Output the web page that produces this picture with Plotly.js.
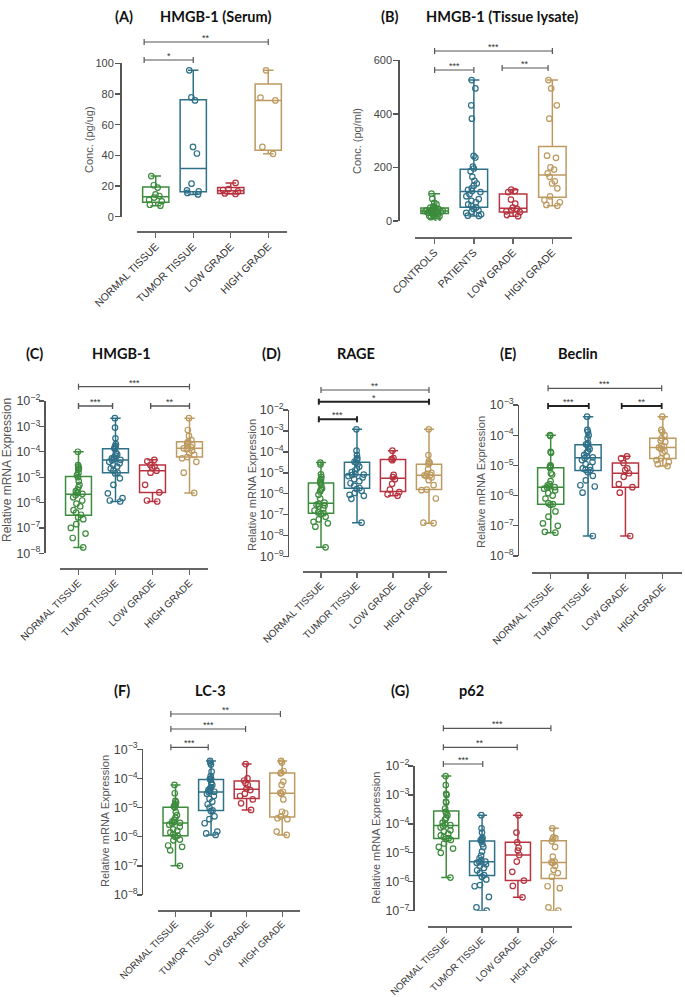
<!DOCTYPE html>
<html>
<head>
<meta charset="utf-8">
<script src="https://cdn.plot.ly/plotly-3.0.1.min.js"></script>
<style>
  body { margin: 0; background: #fff; }
  #chart { width: 685px; height: 997px; }
</style>
</head>
<body>
<div id="chart"></div>
<script>
// group labels
var tissueGroups = ['NORMAL TISSUE', 'TUMOR TISSUE', 'LOW GRADE', 'HIGH GRADE'];
var lysateGroups = ['CONTROLS', 'PATIENTS', 'LOW GRADE', 'HIGH GRADE'];

// (A) HMGB-1 serum, pg/ug
var serumNormal = [26.5, 20.5, 19, 14.5, 13.5, 12.5, 11, 10, 7.8, 7.2];
var serumTumor = [95.4, 77.8, 75.8, 45.5, 41.2, 21.5, 17.2, 16.5, 15.5, 14.5];
var serumLow = [22, 18, 17.4, 16.5, 15.2, 14.8];
var serumHigh = [95.4, 77.6, 75.8, 45.5, 41];

// (B) HMGB-1 tissue lysate, pg/ml
var lysateControls = [102, 83, 68, 62, 55, 52, 50, 48, 46, 45, 43, 42, 40, 39, 38, 37, 36, 35, 34, 32, 31, 30, 28, 27, 25, 23, 20, 18, 14, 8];
var lysatePatients = [526, 495, 432, 382, 243, 237, 203, 196, 186, 165, 150, 140, 132, 122, 116, 112, 108, 100, 92, 82, 75, 70, 62, 57, 50, 45, 40, 35, 30, 25, 20, 19];
var lysateLow = [117, 112, 108, 80, 65, 50, 45, 40, 36, 33, 22, 18];
var lysateHigh = [526, 495, 432, 382, 244, 236, 200, 192, 178, 165, 148, 140, 122, 92, 78, 70, 60, 57];

// (C) HMGB-1 relative mRNA
var hmgbNormal = [1.0e-4, 3.0e-5, 2.6e-5, 2.2e-5, 2.0e-5, 1.5e-5, 1.2e-5, 1.0e-5, 7.0e-6, 5.0e-6, 4.0e-6, 3.2e-6, 2.8e-6, 2.4e-6, 2.2e-6, 2.0e-6, 1.6e-6, 1.2e-6, 9.0e-7, 7.0e-7, 5.0e-7, 4.0e-7, 3.3e-7, 2.6e-7, 2.2e-7, 1.4e-7, 1.0e-7, 6.0e-8, 4.0e-8, 1.7e-8];
var hmgbTumor = [2.1e-3, 9.0e-4, 3.4e-4, 2.0e-4, 1.7e-4, 1.5e-4, 1.4e-4, 1.3e-4, 9.0e-5, 8.0e-5, 7.0e-5, 6.0e-5, 5.5e-5, 5.0e-5, 4.8e-5, 4.6e-5, 4.0e-5, 3.5e-5, 3.0e-5, 2.6e-5, 2.2e-5, 1.8e-5, 1.5e-5, 1.4e-5, 9.0e-6, 5.0e-6, 2.3e-6, 1.5e-6, 1.2e-6, 1.1e-6];
var hmgbLow = [4.8e-5, 4.2e-5, 3.0e-5, 2.6e-5, 2.3e-5, 1.8e-5, 1.5e-5, 5.0e-6, 2.5e-6, 1.2e-6, 1.1e-6];
var hmgbHigh = [2.1e-3, 7.2e-4, 4.2e-4, 2.9e-4, 2.5e-4, 2.2e-4, 1.9e-4, 1.7e-4, 1.5e-4, 1.37e-4, 1.25e-4, 1.1e-4, 9.0e-5, 7.5e-5, 6.2e-5, 5.5e-5, 4.0e-5, 1.5e-5, 2.4e-6];

// (D) RAGE
var rageNormal = [3.1e-5, 2.5e-5, 8.5e-6, 6.5e-6, 5.0e-6, 4.6e-6, 3.6e-6, 3.2e-6, 2.7e-6, 1.8e-6, 1.6e-6, 1.3e-6, 9.0e-7, 6.0e-7, 3.8e-7, 3.3e-7, 3.0e-7, 2.8e-7, 2.5e-7, 2.0e-7, 1.6e-7, 1.3e-7, 1.2e-7, 1.1e-7, 8.0e-8, 6.0e-8, 4.6e-8, 3.9e-8, 2.7e-8, 2.8e-9];
var rageTumor = [1.2e-3, 1.15e-4, 7.1e-5, 5.0e-5, 4.5e-5, 4.0e-5, 3.4e-5, 3.1e-5, 2.6e-5, 2.0e-5, 1.6e-5, 1.3e-5, 1.1e-5, 9.0e-6, 8.3e-6, 7.9e-6, 7.0e-6, 6.0e-6, 5.0e-6, 4.0e-6, 3.2e-6, 2.4e-6, 1.9e-6, 1.7e-6, 1.4e-6, 1.1e-6, 9.0e-7, 8.0e-7, 5.8e-7, 4.2e-8];
var rageLow = [1.15e-4, 5.0e-5, 4.5e-5, 4.0e-5, 8.0e-6, 6.2e-6, 5.0e-6, 3.0e-6, 1.6e-6, 1.2e-6, 9.5e-7, 8.1e-7];
var rageHigh = [1.2e-3, 7.1e-5, 3.5e-5, 3.0e-5, 2.6e-5, 1.5e-5, 1.0e-5, 9.0e-6, 8.0e-6, 7.6e-6, 7.0e-6, 6.0e-6, 4.5e-6, 2.6e-6, 1.6e-6, 1.5e-6, 6.0e-7, 4.2e-8, 4.0e-8];

// (E) Beclin
var beclinNormal = [1.0e-4, 9.5e-5, 2.8e-5, 2.6e-5, 1.0e-5, 9.5e-6, 9.0e-6, 8.2e-6, 5.5e-6, 5.0e-6, 3.0e-6, 2.4e-6, 2.2e-6, 2.0e-6, 1.9e-6, 1.85e-6, 1.7e-6, 1.5e-6, 1.2e-6, 1.0e-6, 8.0e-7, 5.6e-7, 5.2e-7, 5.0e-7, 3.0e-7, 2.0e-7, 1.2e-7, 1.0e-7, 6.3e-8, 5.9e-8];
var beclinTumor = [4.1e-4, 1.5e-4, 1.3e-4, 1.0e-4, 8.0e-5, 5.5e-5, 5.0e-5, 4.8e-5, 4.0e-5, 3.5e-5, 3.0e-5, 2.6e-5, 2.2e-5, 2.0e-5, 1.85e-5, 1.75e-5, 1.5e-5, 1.3e-5, 1.1e-5, 9.0e-6, 8.0e-6, 7.2e-6, 7.0e-6, 6.0e-6, 4.5e-6, 3.2e-6, 2.2e-6, 2.0e-6, 1.25e-6, 4.6e-8];
var beclinLow = [2.0e-5, 1.7e-5, 1.2e-5, 8.0e-6, 7.0e-6, 5.5e-6, 4.2e-6, 2.4e-6, 1.9e-6, 1.25e-6, 4.6e-8];
var beclinHigh = [4.1e-4, 1.5e-4, 1.3e-4, 1.0e-4, 7.9e-5, 6.5e-5, 6.0e-5, 4.5e-5, 4.2e-5, 3.9e-5, 3.5e-5, 3.0e-5, 2.6e-5, 2.0e-5, 1.7e-5, 1.5e-5, 1.3e-5, 1.1e-5, 9.5e-6];

// (F) LC-3
var lc3Normal = [6.0e-5, 3.1e-5, 1.7e-5, 1.5e-5, 1.3e-5, 1.2e-5, 1.1e-5, 1.0e-5, 7.0e-6, 5.5e-6, 4.5e-6, 3.8e-6, 3.4e-6, 3.2e-6, 3.0e-6, 2.9e-6, 2.6e-6, 2.2e-6, 1.8e-6, 1.6e-6, 1.4e-6, 1.2e-6, 1.1e-6, 1.0e-6, 8.0e-7, 7.5e-7, 5.0e-7, 4.5e-7, 3.4e-7, 1.0e-7];
var lc3Tumor = [4.0e-4, 3.5e-4, 3.0e-4, 1.7e-4, 1.2e-4, 1.0e-4, 9.5e-5, 9.0e-5, 7.0e-5, 6.0e-5, 5.0e-5, 4.5e-5, 4.0e-5, 3.7e-5, 3.5e-5, 3.4e-5, 3.0e-5, 2.5e-5, 2.0e-5, 1.6e-5, 1.3e-5, 1.0e-5, 8.0e-6, 7.6e-6, 5.0e-6, 4.0e-6, 2.9e-6, 1.5e-6, 1.3e-6, 1.15e-6];
var lc3Low = [3.1e-4, 1.0e-4, 8.5e-5, 7.0e-5, 6.0e-5, 4.5e-5, 4.0e-5, 3.0e-5, 2.5e-5, 1.9e-5, 1.4e-5, 8.3e-6];
var lc3High = [4.0e-4, 3.5e-4, 1.8e-4, 1.6e-4, 1.5e-4, 7.8e-5, 6.0e-5, 3.5e-5, 3.2e-5, 3.0e-5, 1.9e-5, 7.2e-6, 6.4e-6, 4.9e-6, 4.3e-6, 4.0e-6, 1.5e-6, 1.15e-6];

// (G) p62
var p62Normal = [4.5e-3, 2.2e-3, 1.1e-3, 1.0e-3, 5.8e-4, 5.5e-4, 3.4e-4, 2.6e-4, 2.3e-4, 2.0e-4, 1.6e-4, 1.4e-4, 1.1e-4, 9.5e-5, 9.0e-5, 8.5e-5, 7.5e-5, 6.0e-5, 5.5e-5, 4.5e-5, 4.0e-5, 3.5e-5, 3.2e-5, 3.0e-5, 2.8e-5, 2.1e-5, 1.6e-5, 1.4e-5, 1.0e-5, 1.4e-6];
var p62Tumor = [2.0e-4, 7.0e-5, 5.0e-5, 3.3e-5, 3.0e-5, 2.8e-5, 2.7e-5, 2.5e-5, 2.0e-5, 1.6e-5, 1.1e-5, 8.0e-6, 6.5e-6, 5.5e-6, 5.0e-6, 4.8e-6, 4.5e-6, 4.0e-6, 3.5e-6, 3.0e-6, 2.5e-6, 2.0e-6, 1.7e-6, 1.5e-6, 1.2e-6, 7.7e-7, 7.0e-7, 3.0e-7, 1.3e-7, 1.0e-7];
var p62Low = [2.0e-4, 5.0e-5, 2.3e-5, 1.5e-5, 1.2e-5, 8.4e-6, 5.0e-6, 2.2e-6, 1.1e-6, 7.2e-7, 2.9e-7];
var p62High = [7.0e-5, 3.4e-5, 3.2e-5, 3.0e-5, 2.5e-5, 1.6e-5, 7.4e-6, 5.0e-6, 4.7e-6, 4.5e-6, 3.5e-6, 2.6e-6, 2.0e-6, 1.5e-6, 7.0e-7, 6.0e-7, 1.3e-7, 1.0e-7];

var groupColors = ['#3d8b3d', '#2e7088', '#b7333f', '#bd9a5f'];

/*
* panel geometry in page pixels; brackets are [from, to, stars, y, width]
*/
var panels = [
    {tag: '(A)', name: 'HMGB-1 (Serum)', groups: tissueGroups,
     series: [serumNormal, serumTumor, serumLow, serumHigh],
     ytitle: 'Conc. (pg/ug)', type: 'linear', range: [0, 100], dtick: 20,
     xL: 137, xR: 287, yTop: 63.3, yBot: 216.7, yAxisX: 120, xAxisY: 232.3, xtickSize: 10.5,
     titleY: 17, tagX: 124, nameX: 215, ytitleX: 89, ytitleY: 140, ytitleSize: 11,
     brackets: [[-0.31, 3, '**', 42, 1.2], [-0.31, 1, '*', 60, 1.2]]},
    {tag: '(B)', name: 'HMGB-1 (Tissue lysate)', groups: lysateGroups,
     series: [lysateControls, lysatePatients, lysateLow, lysateHigh],
     ytitle: 'Conc. (pg/ml)', type: 'linear', range: [0, 600], dtick: 200,
     xL: 415, xR: 572, yTop: 60.3, yBot: 221, yAxisX: 398.3, xAxisY: 238.3, xtickSize: 10.5,
     titleY: 17, tagX: 389.5, nameX: 501.5, ytitleX: 357, ytitleY: 141, ytitleSize: 11,
     brackets: [[0, 3, '***', 51, 1.2], [0, 1, '***', 70, 1.2], [1.72, 2.89, '**', 68, 1.2]]},
    {tag: '(C)', name: 'HMGB-1', groups: tissueGroups,
     series: [hmgbNormal, hmgbTumor, hmgbLow, hmgbHigh],
     ytitle: 'Relative mRNA Expression', type: 'log', range: [-8, -2], dtick: 1,
     xL: 60, xR: 208, yTop: 401, yBot: 553.3, yAxisX: 44.3, xAxisY: 569.3, xtickSize: 10,
     titleY: 353, tagX: 34, nameX: 121, ytitleX: 7, ytitleY: 470, ytitleSize: 12,
     brackets: [[0, 3, '***', 386.7, 1.2], [0, 0.92, '***', 406, 1.4], [1.95, 3, '**', 406, 1.4]]},
    {tag: '(D)', name: 'RAGE', groups: tissueGroups,
     series: [rageNormal, rageTumor, rageLow, rageHigh],
     ytitle: 'Relative mRNA Expression', type: 'log', range: [-9, -2], dtick: 1,
     xL: 303, xR: 447, yTop: 410, yBot: 556.7, yAxisX: 287.7, xAxisY: 571.7, xtickSize: 10,
     titleY: 353, tagX: 271, nameX: 356, ytitleX: 252, ytitleY: 485, ytitleSize: 11,
     brackets: [[0, 3, '**', 390, 1.2], [-0.06, 3, '*', 401.7, 2], [-0.06, 1, '***', 419.3, 2]]},
    {tag: '(E)', name: 'Beclin', groups: tissueGroups,
     series: [beclinNormal, beclinTumor, beclinLow, beclinHigh],
     ytitle: 'Relative mRNA Expression', type: 'log', range: [-8, -3], dtick: 1,
     xL: 532, xR: 681.5, yTop: 405, yBot: 556, yAxisX: 517.7, xAxisY: 573.3, xtickSize: 10,
     titleY: 353, tagX: 508, nameX: 578, ytitleX: 481, ytitleY: 482, ytitleSize: 11,
     brackets: [[-0.07, 2.97, '***', 388.3, 1.2], [-0.07, 1.02, '***', 406, 1.8], [1.9, 2.97, '**', 406, 1.8]]},
    {tag: '(F)', name: 'LC-3', groups: tissueGroups,
     series: [lc3Normal, lc3Tumor, lc3Low, lc3High],
     ytitle: 'Relative mRNA Expression', type: 'log', range: [-8, -3], dtick: 1,
     xL: 157.7, xR: 300, yTop: 749.3, yBot: 895, yAxisX: 141.7, xAxisY: 910.7, xtickSize: 9.6,
     titleY: 690.7, tagX: 122, nameX: 210.5, ytitleX: 105, ytitleY: 821, ytitleSize: 11,
     brackets: [[-0.13, 2.95, '**', 714, 1.2], [-0.13, 1.97, '***', 729, 1.2], [-0.13, 0.92, '***', 747.3, 1.2]]},
    {tag: '(G)', name: 'p62', groups: tissueGroups,
     series: [p62Normal, p62Tumor, p62Low, p62High],
     ytitle: 'Relative mRNA Expression', type: 'log', range: [-7, -2], dtick: 1,
     xL: 428.3, xR: 571.7, yTop: 766, yBot: 910.7, yAxisX: 413.3, xAxisY: 926.7, xtickSize: 9.6,
     titleY: 690.7, tagX: 400, nameX: 471.7, ytitleX: 375.7, ytitleY: 838, ytitleSize: 11,
     brackets: [[-0.08, 2.92, '***', 728.3, 1.2], [-0.08, 1.98, '**', 747.3, 1.2], [-0.08, 1.02, '***', 764, 1.2]]}
];

var W = 685, H = 997;
var SANS = 'Liberation Sans';
function px(x) { return x / W; }
function py(y) { return 1 - y / H; }

/*
* quartiles the way the (n+1) method does it
*/
function quantile(sorted, p) {
    var n = sorted.length, h = p * (n + 1) - 1;
    if (h <= 0) return sorted[0];
    if (h >= n - 1) return sorted[n - 1];
    var lo = Math.floor(h);
    return sorted[lo] + (h - lo) * (sorted[lo + 1] - sorted[lo]);
}

function drawGraph() {
    var data = [], shapes = [], annotations = [];
    var layout = {
        width: W, height: H,
        margin: {l: 0, r: 0, t: 0, b: 0},
        paper_bgcolor: '#fff', plot_bgcolor: 'rgba(0,0,0,0)',
        showlegend: false,
        boxmode: 'overlay',
        font: {family: SANS, color: '#333'}
    };

    panels.forEach(function (p, k) {
        var sfx = k === 0 ? '' : String(k + 1);
        var xa = 'x' + sfx, ya = 'y' + sfx;
        var isLog = p.type === 'log';

        layout['xaxis' + sfx] = {
            domain: [px(p.xL), px(p.xR)],
            anchor: 'free', position: py(p.xAxisY),
            range: [-0.5, 3.5], tickvals: [0, 1, 2, 3], ticktext: p.groups,
            tickangle: -45, ticks: 'outside', ticklen: 5, tickwidth: 1.3, tickcolor: '#666',
            ticklabelstandoff: -2,
            showline: true, linecolor: '#666', linewidth: 2,
            showgrid: false, zeroline: false, fixedrange: true,
            tickfont: {family: SANS, size: p.xtickSize, color: '#333'}
        };
        layout['yaxis' + sfx] = {
            domain: [py(p.yBot), py(p.yTop)],
            anchor: 'free', position: px(p.yAxisX),
            type: p.type, range: p.range, dtick: p.dtick,
            exponentformat: 'power', showexponent: 'all',
            ticks: 'outside', ticklen: 5, tickwidth: 1.3, tickcolor: '#555',
            ticklabelstandoff: isLog ? -3 : -1,
            showline: true, linecolor: '#555', linewidth: 1.5,
            showgrid: false, zeroline: false, fixedrange: true,
            tickfont: {family: SANS, size: isLog ? 10 : 11, color: '#444'}
        };

        p.series.forEach(function (vals, i) {
            var s = vals.slice().sort(function (a, b) { return a - b; });
            var c = groupColors[i];
            data.push({
                type: 'box', xaxis: xa, yaxis: ya,
                x: [i], y: [vals],
                q1: [quantile(s, 0.25)], median: [quantile(s, 0.5)], q3: [quantile(s, 0.75)],
                lowerfence: [s[0]], upperfence: [s[s.length - 1]],
                boxpoints: 'all', jitter: 0.7, pointpos: 0,
                width: 0.7, whiskerwidth: 0.4,
                fillcolor: 'rgba(0,0,0,0)',
                line: {color: c, width: 1.5},
                marker: {symbol: 'circle-open', size: 5.5, color: c, line: {width: 1.2, color: c}},
                hoverinfo: 'skip'
            });
        });

        // significance brackets
        var span = p.yBot - p.yTop;
        p.brackets.forEach(function (b) {
            var lvl = (p.yBot - b[3]) / span;
            var col = b[4] > 1.5 ? '#222' : '#555';
            shapes.push({type: 'line', xref: xa, yref: ya + ' domain', x0: b[0], x1: b[1], y0: lvl, y1: lvl,
                line: {color: col, width: b[4]}});
            [b[0], b[1]].forEach(function (xe) {
                shapes.push({type: 'line', xref: xa, yref: ya + ' domain', x0: xe, x1: xe,
                    ysizemode: 'pixel', yanchor: lvl, y0: -3, y1: 3, line: {color: col, width: b[4]}});
            });
            annotations.push({xref: xa, yref: ya + ' domain', x: (b[0] + b[1]) / 2, y: lvl,
                text: b[2], showarrow: false, yanchor: 'bottom', yshift: -3,
                font: {family: SANS, size: 9, color: '#333'}});
        });

        // panel titles
        annotations.push({xref: 'paper', yref: 'paper', x: px(p.tagX), y: py(p.titleY),
            text: '<b>' + p.tag + '</b>', showarrow: false, xanchor: 'center', yanchor: 'middle',
            font: {family: 'Lato', size: 14.5, color: '#111'}});
        annotations.push({xref: 'paper', yref: 'paper', x: px(p.nameX), y: py(p.titleY),
            text: '<b>' + p.name + '</b>', showarrow: false, xanchor: 'center', yanchor: 'middle',
            font: {family: 'Lato', size: 14.5, color: '#111'}});

        // y axis title
        annotations.push({xref: 'paper', yref: 'paper', x: px(p.ytitleX), y: py(p.ytitleY),
            text: p.ytitle, textangle: -90, showarrow: false, xanchor: 'center', yanchor: 'middle',
            font: {family: SANS, size: p.ytitleSize, color: '#555'}});
    });

    layout.shapes = shapes;
    layout.annotations = annotations;

    Plotly.newPlot('chart', data, layout, {staticPlot: true});
}

drawGraph();
</script>
</body>
</html>
